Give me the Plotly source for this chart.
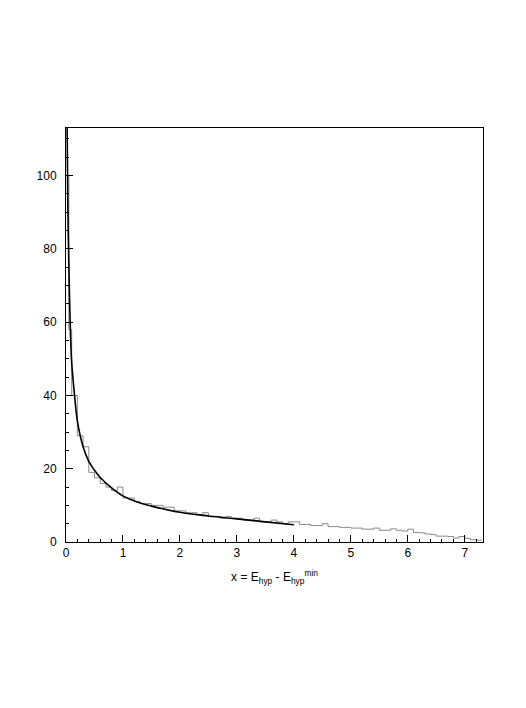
import plotly.graph_objects as go

# histogram bin edges and contents
hist_edges = [0.0, 0.05, 0.1, 0.2, 0.3, 0.4, 0.5, 0.6, 0.7, 0.8, 0.9, 1.0,
              1.1, 1.2, 1.3, 1.4, 1.5, 1.6, 1.7, 1.8, 1.9, 2.0,
              2.1, 2.2, 2.3, 2.4, 2.5, 2.6, 2.7, 2.8, 2.9, 3.0,
              3.1, 3.2, 3.3, 3.4, 3.5, 3.6, 3.7, 3.8, 3.9, 4.0,
              4.1, 4.2, 4.3, 4.4, 4.5, 4.6, 4.7, 4.8, 4.9, 5.0,
              5.1, 5.2, 5.3, 5.4, 5.5, 5.6, 5.7, 5.8, 5.9, 6.0,
              6.1, 6.2, 6.3, 6.4, 6.5, 6.6, 6.7, 6.8, 6.9, 7.0,
              7.1, 7.2, 7.3]
hist_counts = [100, 58, 40, 29, 26, 19, 17.5, 16, 15, 14, 15,
               12, 12, 11, 10.5, 10.5, 10, 10, 9.5, 9.5, 8.5,
               8.5, 8, 8, 7.5, 8, 7, 7, 6.5, 7, 6.5,
               6.5, 6, 6, 6.5, 5.5, 5.5, 6, 5.5, 5, 5.5,
               5.5, 4.8, 4.8, 4.5, 4.5, 5, 4.2, 4.2, 4, 4,
               3.8, 3.8, 3.5, 3.5, 3.8, 3.2, 3.2, 3.6, 3.2, 3,
               3.5, 2.6, 2.5, 2.2, 2, 1.6, 1.6, 1.5, 1.1, 1.5,
               1, 0.6, 0.5]

# fitted curve
fit_x = [0.02, 0.03, 0.04, 0.06, 0.08, 0.1, 0.15, 0.2, 0.3, 0.4, 0.5, 0.6,
         0.8, 1.0, 1.25, 1.5, 2.0, 2.5, 3.0, 3.5, 4.0]
fit_y = [113, 95, 84, 68, 56, 49, 40, 33, 26, 22, 19.6, 17.6,
         14.8, 12.6, 10.9, 9.8, 8.1, 7.1, 6.3, 5.5, 4.7]

fig = go.Figure()

fig.add_trace(go.Scatter(
    x=hist_edges,
    y=hist_counts + [hist_counts[-1]],
    mode="lines",
    line=dict(shape="hv", color="#8a8a8a", width=1),
    showlegend=False
))

fig.add_trace(go.Scatter(
    x=fit_x,
    y=fit_y,
    mode="lines",
    line=dict(shape="spline", smoothing=1, color="black", width=1.6),
    showlegend=False
))

axis_common = dict(
    showline=True,
    linecolor="black",
    linewidth=1,
    mirror=True,
    showgrid=False,
    zeroline=False,
    automargin=False,
    ticks="inside",
    ticklen=7,
    tickcolor="black",
    tickfont=dict(family="Liberation Sans", size=12, color="black"),
)

# page body adds an 8px offset, so the figure is a bit smaller than the window
fig.update_layout(
    width=510,
    height=692,
    margin=dict(l=58, r=35, t=120, b=158),
    plot_bgcolor="white",
    paper_bgcolor="white",
    xaxis=dict(
        range=[0, 7.32],
        dtick=1,
        minor=dict(dtick=0.2, ticks="inside", ticklen=3, tickcolor="black"),
        title=dict(text="x = E<sub>hyp</sub> - E<sub>hyp</sub><sup>min</sup>",
                   font=dict(family="Liberation Sans", size=12, color="black"),
                   standoff=13),
        **axis_common
    ),
    yaxis=dict(
        range=[0, 113],
        dtick=20,
        minor=dict(dtick=5, ticks="inside", ticklen=3, tickcolor="black"),
        ticklabelstandoff=6,
        **axis_common
    ),
)

fig.write_html("out.html")
